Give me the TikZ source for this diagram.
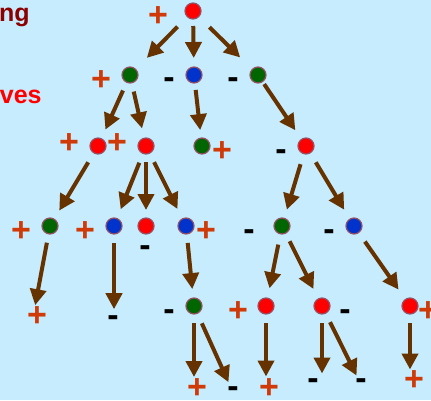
\documentclass[tikz,border=0pt]{standalone}
\usepackage{fontspec}
\setmainfont{Liberation Sans}
\usetikzlibrary{arrows.meta}
\definecolor{bgblue}{RGB}{198,236,253}
\definecolor{dotred}{RGB}{255,0,0}
\definecolor{dotgreen}{RGB}{0,102,0}
\definecolor{dotblue}{RGB}{0,51,204}
\definecolor{ringc}{RGB}{150,80,100}
\definecolor{plusc}{RGB}{208,58,8}
\definecolor{arrowc}{RGB}{102,51,0}
\definecolor{darkred}{RGB}{140,0,0}
\begin{document}
\begin{tikzpicture}[x=1pt,y=-1pt,
  dot/.style={circle,minimum size=16pt,inner sep=0pt,draw=ringc,line width=1.2pt},
  rdot/.style={dot,fill=dotred},
  gdot/.style={dot,fill=dotgreen},
  bdot/.style={dot,fill=dotblue},
  plusmark/.style={text=plusc,inner sep=0pt,font=\fontsize{34}{34}\selectfont\bfseries},
  minusmark/.style={text=black,inner sep=0pt,yshift=-4.5pt,font=\fontsize{34}{34}\selectfont\bfseries},
  link/.style={draw=arrowc,line width=4pt,-{Triangle[length=16pt,width=16pt]},
    shorten <=17pt,shorten >=18pt},
  heading/.style={inner sep=0pt,anchor=base west,font=\fontsize{25}{25}\selectfont\bfseries}]
% background and page size
\fill[bgblue] (0,0) rectangle (431,400);
\useasboundingbox (0,0) rectangle (431,400);

% side captions
\node[heading,text=darkred] (capA) at (-1.2,21.7) {ng};
\node[heading,text=dotred] (capB) at (-0.3,103.3) {ves};

% tree nodes
\node[rdot] (r0) at (193,11) {};
\node[gdot] (g1a) at (130,75) {};
\node[bdot] (b1) at (194,75) {};
\node[gdot] (g1b) at (258,75) {};
\node[rdot] (r2a) at (98,146) {};
\node[rdot] (r2b) at (146,146) {};
\node[gdot] (g2) at (202,146) {};
\node[rdot] (r2c) at (306,146) {};
\node[gdot] (g3a) at (50,226) {};
\node[bdot] (b3a) at (114,226) {};
\node[rdot] (r3) at (146,226) {};
\node[bdot] (b3b) at (186,226) {};
\node[gdot] (g3b) at (282,226) {};
\node[bdot] (b3c) at (354,226) {};
\node[gdot] (g4) at (194,306) {};
\node[rdot] (r4a) at (266,306) {};
\node[rdot] (r4b) at (322,306) {};
\node[rdot] (r4c) at (410,306) {};

% leaf values
\node[plusmark] (l1) at (37,317) {+};
\node[minusmark] (l2) at (113,316.7) {-};
\node[plusmark] (l3) at (197,389) {+};
\node[minusmark] (l4) at (233,387.7) {-};
\node[plusmark] (l5) at (269,389) {+};
\node[minusmark] (l6) at (313,380) {-};
\node[minusmark] (l7) at (361,380) {-};
\node[plusmark] (l8) at (414,381) {+};

% signs beside the inner nodes
\node[plusmark] (s1) at (158,16.5) {+};
\node[plusmark] (s2) at (101,81) {+};
\node[minusmark] (s3) at (169,79) {-};
\node[minusmark] (s4) at (233,79) {-};
\node[plusmark] (s5) at (69,144) {+};
\node[plusmark] (s6) at (117,144) {+};
\node[plusmark] (s7) at (222,152) {+};
\node[minusmark] (s8) at (281,151) {-};
\node[plusmark] (s9) at (21,232) {+};
\node[plusmark] (s10) at (85,232) {+};
\node[minusmark] (s11) at (145,247) {-};
\node[plusmark] (s12) at (206,232) {+};
\node[minusmark] (s13) at (249,231) {-};
\node[minusmark] (s14) at (329,231) {-};
\node[minusmark] (s15) at (169,311) {-};
\node[plusmark] (s16) at (238,312) {+};
\node[minusmark] (s17) at (345,311) {-};
\node[plusmark] (s18) at (428,312) {+};

% edges
\draw[link,shorten <=22pt,shorten >=24pt] (r0.center) -- (g1a.center);
\draw[link,shorten <=15pt,shorten >=17pt] (r0.center) -- (b1.center);
\draw[link,shorten <=23pt,shorten >=25pt] (r0.center) -- (g1b.center);
\draw[link] (g1a.center) -- (r2a.center);
\draw[link] (g1a.center) -- (r2b.center);
\draw[link,shorten <=15pt,shorten >=16pt] (b1.center) -- (g2.center);
\draw[link,shorten <=11pt,shorten >=19pt] (g1b.center) -- (r2c.center);
\draw[link,shorten <=19pt,shorten >=18pt] (r2a.center) -- (g3a.center);
\draw[link,shorten <=18pt,shorten >=18pt] (r2b.center) -- (b3a.center);
\draw[link,shorten <=16pt,shorten >=16pt] (r2b.center) -- (r3.center);
\draw[link,shorten <=18pt,shorten >=19pt] (r2b.center) -- (b3b.center);
\draw[link,shorten <=19pt,shorten >=17pt] (r2c.center) -- (g3b.center);
\draw[link,shorten <=19pt,shorten >=19pt] (r2c.center) -- (b3c.center);
\draw[link,shorten <=17pt,shorten >=12pt] (g3a.center) -- ([xshift=-4pt]l1.center);
\draw[link,shorten <=17pt,shorten >=12pt] (b3a.center) -- (b3a |- l2);
\draw[link,shorten <=17pt,shorten >=17pt] (b3b.center) -- (g4.center);
\draw[link,shorten <=19pt,shorten >=18pt] (g3b.center) -- (r4a.center);
\draw[link,shorten <=17pt,shorten >=19pt] (g3b.center) -- (r4b.center);
\draw[link,shorten <=19pt,shorten >=20pt] (b3c.center) -- (r4c.center);
\draw[link,shorten <=17pt,shorten >=12pt] (g4.center) -- (g4 |- l3);
\draw[link,shorten <=19pt,shorten >=11pt] (g4.center) -- (l4.center);
\draw[link,shorten <=17pt,shorten >=12.5pt] (r4a.center) -- (r4a |- l5);
\draw[link,shorten <=17pt,shorten >=11pt] (r4b.center) -- (r4b |- l6);
\draw[link,shorten <=18pt,shorten >=10pt] (r4b.center) -- (l7.center);
\draw[link,shorten <=17pt,shorten >=11.5pt] (r4c.center) -- (r4c |- l8);
\end{tikzpicture}
\end{document}
